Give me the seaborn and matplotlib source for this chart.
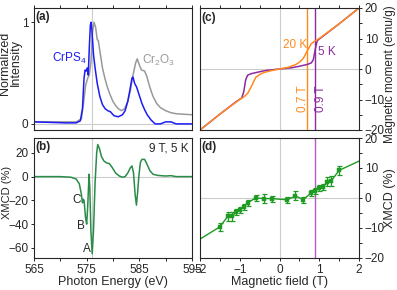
import numpy as np
import pandas as pd
import seaborn as sns
import matplotlib
matplotlib.use("Agg")
import matplotlib.pyplot as plt

# ---- data ----
# (a) XAS, normalized intensity
e_crps4 = [565, 568, 571, 573, 573.8, 574.2, 574.5, 574.7, 574.9, 575.1, 575.3, 575.5, 575.7, 575.85,
           576.0, 576.3, 576.6, 577.0, 577.5, 578.0, 578.5, 579.0, 579.5, 580.2, 581.0, 581.8, 582.3,
           582.8, 583.2, 583.6, 583.8, 584.1, 584.5, 585.0, 585.5, 586.0, 586.5, 587.2, 588, 589, 590,
           591, 592, 595]
i_crps4 = [0.02, 0.015, 0.01, 0.01, 0.03, 0.15, 0.45, 0.53, 0.52, 0.55, 0.48, 0.75, 0.97, 1.0,
           0.92, 0.68, 0.55, 0.40, 0.27, 0.19, 0.15, 0.13, 0.12, 0.08, 0.07, 0.09, 0.13,
           0.22, 0.33, 0.45, 0.46, 0.40, 0.36, 0.28, 0.20, 0.14, 0.09, 0.04, 0.0, 0.0, 0.02,
           0.02, 0.0, 0.0]
e_cr2o3 = [565, 570, 573, 574, 574.4, 574.8, 575.2, 575.5, 575.8, 576.1, 576.4, 576.7, 577.0, 577.2,
           577.5, 578.0, 578.5, 579.0, 579.5, 580.0, 580.5, 581.0, 581.6, 582.2, 582.8, 583.3, 583.8,
           584.3, 584.6, 585.0, 585.4, 586.0, 586.4, 587.0, 587.6, 588.3, 589.0, 590.0, 591, 592, 595]
i_cr2o3 = [0.02, 0.02, 0.02, 0.05, 0.2, 0.38, 0.45, 0.48, 0.6, 0.9, 1.0, 0.95, 0.83, 0.82,
           0.72, 0.55, 0.44, 0.35, 0.28, 0.22, 0.18, 0.15, 0.13, 0.15, 0.22, 0.33, 0.48,
           0.6, 0.64, 0.58, 0.53, 0.52, 0.47, 0.36, 0.27, 0.2, 0.16, 0.13, 0.11, 0.1, 0.09]

# (b) XMCD spectrum, 9 T, 5 K
e_xmcd = [565, 570, 572, 573, 573.6, 574.0, 574.2, 574.35, 574.5, 574.8, 575.0, 575.2, 575.45, 575.6,
          575.8, 576.05, 576.3, 576.6, 576.9, 577.1, 577.4, 577.8, 578.3, 578.8, 579.3, 579.8, 580.5,
          581.2, 581.8, 582.3, 582.8, 583.3, 583.6, 583.9, 584.2, 584.45, 584.7, 584.9, 585.2, 585.5,
          586.0, 586.4, 587.0, 587.6, 588.5, 590, 591, 592, 595]
xmcd = [0, 0, -0.5, -2, -6, -15, -22, -19, -20, -35, -40, -25, 2, -10,
        -45, -65, -45, -5, 20, 27, 24, 17, 13, 11.5, 11, 8, 3,
        0.5, -0.5, 0, 3, 7.5, 9, 3, -15, -24, -12, 0, 12, 14.5,
        14.5, 11, 5, 2, 1, 0.5, 0.8, 0, 0]

# (c) magnetization
h_5k = [-2, -1.5, -1.1, -0.95, -0.9, -0.85, -0.8, -0.7, -0.5, -0.3, 0, 0.3, 0.5, 0.7, 0.8, 0.85,
        0.9, 0.95, 1.1, 1.5, 2]
m_5k = [-20, -14.8, -10.8, -9.5, -7.5, -3.5, -2.0, -1.5, -0.9, -0.4, 0, 0.4, 0.9, 1.5, 2.0, 3.0,
        6.5, 9.3, 10.8, 14.8, 20]
h_20k = [-2, -1.5, -1.0, -0.9, -0.8, -0.7, -0.6, -0.5, -0.4, -0.2, 0, 0.2, 0.4, 0.5, 0.6, 0.7,
         0.8, 0.9, 1.0, 1.5, 2]
m_20k = [-20, -14.8, -10.0, -9.2, -8.0, -5.5, -2.8, -1.8, -1.2, -0.5, 0, 0.5, 1.4, 2.2, 3.5, 6.0,
         8.3, 9.3, 10.0, 14.8, 20]

# (d) XMCD vs field
h_d = [-1.5, -1.3, -1.2, -1.1, -1.0, -0.9, -0.8, -0.6, -0.4, -0.2, 0.2, 0.4, 0.6, 0.8, 0.9, 1.0,
       1.1, 1.2, 1.3, 1.5]
x_d = [-9.6, -6.1, -6.1, -4.8, -3.9, -2.9, -1.6, 0.0, -0.2, -0.2, -0.6, 0.7, -0.5, 1.7, 2.3, 3.2,
       3.7, 5.4, 5.7, 9.2]
err_d = [1.4, 1.6, 1.6, 1.0, 1.0, 1.0, 1.0, 1.0, 1.5, 1.0, 1.0, 1.5, 1.0, 1.0, 1.0, 1.0,
         1.0, 1.5, 1.7, 1.5]
h_fit_ends = [-2, 2]
x_fit_ends = [-13.7, 12.3]

# ---- style ----
sns.set_style("ticks")
plt.rcParams['font.family'] = ['Liberation Sans', 'DejaVu Sans']
plt.rcParams['mathtext.fontset'] = 'custom'
plt.rcParams['mathtext.rm'] = 'Liberation Sans'
plt.rcParams['font.size'] = 8.5
plt.rcParams['axes.labelsize'] = 9
plt.rcParams['axes.linewidth'] = 0.8
for k in ['xtick', 'ytick']:
    plt.rcParams[k + '.major.size'] = 2.5
    plt.rcParams[k + '.minor.size'] = 1.8
    plt.rcParams[k + '.major.width'] = 0.7
    plt.rcParams[k + '.minor.width'] = 0.7
    plt.rcParams[k + '.major.pad'] = 1.5
    plt.rcParams[k + '.labelsize'] = 8.5

blue = "#1c1cf5"
grey = "#999999"
green_b = "#2a8c48"
green_d = "#1f9a22"
orange = "#ff8a1e"
purple = "#8e2aa0"
guide = "#cccccc"

fig = plt.figure(figsize=(3.97, 2.90), dpi=100)
W, H = 397, 290

def box(l, t, r, b):
    return [l / W, (H - b) / H, (r - l) / W, (b - t) / H]

ax_a = fig.add_axes(box(34, 8, 192, 130))
ax_b = fig.add_axes(box(34, 138, 192, 258))
ax_c = fig.add_axes(box(200, 8, 359, 130))
ax_d = fig.add_axes(box(200, 138, 359, 258))

# ---- (a) ----
ax_a.axvline(576, color=guide, lw=0.8, zorder=0)
ax_a.axhline(0, color=guide, lw=0.8, zorder=0)
sns.lineplot(x=e_cr2o3, y=i_cr2o3, ax=ax_a, color=grey, lw=1.1)
sns.lineplot(x=e_crps4, y=i_crps4, ax=ax_a, color=blue, lw=1.1)
ax_a.set_xlim(565, 595)
ax_a.set_ylim(-0.06, 1.14)
ax_a.set_xticks(np.arange(565, 596, 5))
ax_a.set_yticks([0, 1])
ax_a.tick_params(axis='x', bottom=False, top=True, labelbottom=False, labeltop=False)
ax_a.set_xlabel("")
ax_a.set_ylabel("Normalized\nIntensity", linespacing=0.85)
ax_a.yaxis.set_label_coords(-0.078, 0.55)
ax_a.text(0.01, 0.975, "(a)", transform=ax_a.transAxes, fontweight='bold', ha='left', va='top')
ax_a.text(574.9, 0.64, "CrPS$_4$", color=blue, ha='right', va='center')
ax_a.text(585.6, 0.62, "Cr$_2$O$_3$", color=grey, ha='left', va='center')

# ---- (b) ----
ax_b.axvline(576, color=guide, lw=0.8, zorder=0)
ax_b.axhline(0, color=guide, lw=0.8, zorder=0)
sns.lineplot(x=e_xmcd, y=xmcd, ax=ax_b, color=green_b, lw=1.1)
ax_b.set_xlim(565, 595)
ax_b.set_ylim(-68.5, 32.5)
ax_b.set_xticks([565, 575, 585, 595])
ax_b.set_xticks([570, 580, 590], minor=True)
ax_b.set_yticks([-60, -40, -20, 0, 20])
ax_b.tick_params(axis='x', which='both', bottom=True, top=False)
ax_b.set_xlabel("Photon Energy (eV)", labelpad=0)
ax_b.set_ylabel("XMCD (%)", fontsize=8)
ax_b.yaxis.set_label_coords(-0.142, 0.55)
ax_b.text(0.01, 0.975, "(b)", transform=ax_b.transAxes, fontweight='bold', ha='left', va='top')
ax_b.text(0.98, 0.965, "9 T, 5 K", transform=ax_b.transAxes, ha='right', va='top')
ax_b.text(575.0, -61, "A", ha='center', va='center')
ax_b.text(573.9, -41.6, "B", ha='center', va='center')
ax_b.text(573.1, -19.6, "C", ha='center', va='center')

# ---- (c) ----
ax_c.axvline(0, color=guide, lw=0.8, zorder=0)
ax_c.axhline(0, color=guide, lw=0.8, zorder=0)
ax_c.axvline(0.7, color=orange, lw=1.0, zorder=1)
ax_c.axvline(0.9, color=purple, lw=1.0, zorder=1)
sns.lineplot(x=h_5k, y=m_5k, ax=ax_c, color=purple, lw=1.1, sort=False)
sns.lineplot(x=h_20k, y=m_20k, ax=ax_c, color=orange, lw=1.1, sort=False)
ax_c.set_xlim(-2, 2)
ax_c.set_ylim(-20, 20)
ax_c.set_xticks(np.arange(-2, 2.01, 0.5))
ax_c.set_yticks([-20, -10, 0, 10, 20])
ax_c.set_yticks([-15, -5, 5, 15], minor=True)
ax_c.tick_params(axis='x', bottom=False, top=True, labelbottom=False, labeltop=False)
ax_c.yaxis.tick_right()
ax_c.tick_params(axis='y', which='both', left=False, right=True)
ax_c.yaxis.set_label_position('right')
ax_c.set_xlabel("")
ax_c.set_ylabel("Magnetic moment (emu/g)", fontsize=8.5)
ax_c.yaxis.set_label_coords(1.155, 0.46)
ax_c.text(0.01, 0.965, "(c)", transform=ax_c.transAxes, fontweight='bold', ha='left', va='top')
ax_c.text(0.39, 7.9, "20 K", color=orange, ha='center', va='center')
ax_c.text(1.18, 5.7, "5 K", color=purple, ha='center', va='center')
ax_c.text(0.6, -9.8, "0.7 T", color=orange, rotation=90, ha='center', va='center')
ax_c.text(1.04, -9.8, "0.9 T", color=purple, rotation=90, ha='center', va='center')

# ---- (d) ----
ax_d.axvline(0, color=guide, lw=0.8, zorder=0)
ax_d.axhline(0, color=guide, lw=0.8, zorder=0)
ax_d.axvline(0.9, color="#b25cc2", lw=1.0, zorder=1)
line_h = [h_fit_ends[0]] + h_d + [h_fit_ends[1]]
line_x = [x_fit_ends[0]] + x_d + [x_fit_ends[1]]
sns.lineplot(x=line_h, y=line_x, ax=ax_d, color=green_d, lw=1.0, sort=False)
ax_d.errorbar(h_d, x_d, yerr=err_d, fmt='none', ecolor=green_d, elinewidth=0.9, capsize=1.8,
              capthick=0.9, zorder=3)
sns.scatterplot(x=h_d, y=x_d, ax=ax_d, color=green_d, marker='s', s=8, edgecolor=green_d,
                linewidth=0.3, zorder=4)
ax_d.set_xlim(-2, 2)
ax_d.set_ylim(-20, 20)
ax_d.set_xticks([-2, -1, 0, 1, 2])
ax_d.set_xticks([-1.5, -0.5, 0.5, 1.5], minor=True)
ax_d.set_yticks([-20, -10, 0, 10, 20])
ax_d.set_yticks([-15, -5, 5, 15], minor=True)
ax_d.tick_params(axis='x', which='both', bottom=True, top=False)
ax_d.yaxis.tick_right()
ax_d.tick_params(axis='y', which='both', left=False, right=True)
ax_d.yaxis.set_label_position('right')
ax_d.set_xlabel("Magnetic field (T)", labelpad=0)
ax_d.set_ylabel("XMCD (%)")
ax_d.yaxis.set_label_coords(1.155, 0.5)
ax_d.text(0.01, 0.975, "(d)", transform=ax_d.transAxes, fontweight='bold', ha='left', va='top')

fig.savefig("out.png", dpi=100)
